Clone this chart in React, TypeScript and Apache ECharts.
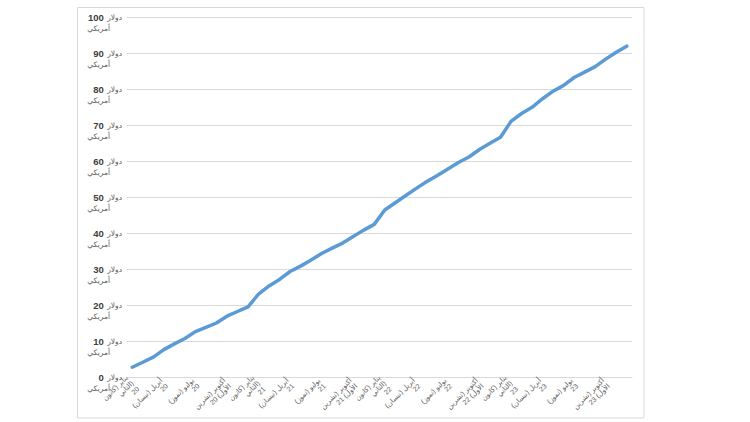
import React, { useEffect, useRef } from "react";
import * as echarts from "echarts";

const monthNames = [
  "يناير (كانون\nالثاني)\n",
  "فبراير (شباط)\n",
  "مارس (آذار)\n",
  "أبريل (نيسان)\n",
  "مايو (أيار)\n",
  "يونيو (حزيران)\n",
  "يوليو (تموز)\n",
  "أغسطس (آب)\n",
  "سبتمبر (أيلول)\n",
  "أكتوبر (تشرين\nالأول) ",
  "نوفمبر (تشرين\nالثاني) ",
  "ديسمبر (كانون\nالأول) ",
];
const years = ["20", "21", "22", "23"];

const prices = [
  2.7, 4.1, 5.5, 7.6, 9.2, 10.7, 12.6, 13.8, 15.0, 16.9, 18.2, 19.5,
  23.0, 25.3, 27.1, 29.3, 30.8, 32.5, 34.3, 35.8, 37.2, 39.0, 40.8, 42.4,
  46.4, 48.4, 50.4, 52.4, 54.3, 56.0, 57.8, 59.6, 61.1, 63.2, 64.9, 66.6,
  71.0, 73.2, 74.9, 77.3, 79.4, 81.0, 83.2, 84.7, 86.2, 88.3, 90.2, 91.9,
];

const yTicks = [0, 10, 20, 30, 40, 50, 60, 70, 80, 90, 100];
const unitLine1 = "دولار";
const unitLine2 = "أمريكي";

const categories: string[] = [];
years.forEach((y) => monthNames.forEach((m) => categories.push(m + y)));

export default function App() {
  const ref = useRef<HTMLDivElement>(null);
  useEffect(() => {
    if (!ref.current) return;
    const chart = echarts.init(ref.current, undefined, { renderer: "svg" });
    const font = "'Liberation Sans', 'DejaVu Sans', Arial, sans-serif";
    chart.setOption({
      animation: false,
      backgroundColor: "#ffffff",
      graphic: [
        {
          type: "rect",
          shape: { x: 77.5, y: 7.5, width: 566.5, height: 410.5 },
          style: { fill: "#ffffff", stroke: "#D9D9D9", lineWidth: 1 },
          z: -10,
        },
      ],
      grid: { left: 127, right: 118, top: 17, bottom: 45, containLabel: false },
      xAxis: {
        type: "category",
        data: categories,
        boundaryGap: true,
        axisLine: { lineStyle: { color: "#D9D9D9", width: 1 } },
        axisTick: { show: false },
        axisLabel: {
          interval: 2,
          rotate: 45,
          fontSize: 7,
          lineHeight: 8,
          color: "#595959",
          fontFamily: font,
          margin: 5,
        },
        splitLine: { show: false },
      },
      yAxis: {
        type: "value",
        min: 0,
        max: 100,
        interval: 10,
        axisLine: { show: false },
        axisTick: { show: false },
        splitLine: { lineStyle: { color: "#D9D9D9", width: 1 } },
        axisLabel: {
          margin: 5,
          align: "right",
          verticalAlign: "middle",
          padding: [11, 0, 0, 0],
          formatter: (v: number) =>
            yTicks.includes(v)
              ? `{n|${v}} {u|${unitLine1}}\n{w|${unitLine2}}`
              : "",
          rich: {
            n: { fontSize: 9.5, fontWeight: "bold", color: "#404040", fontFamily: font, lineHeight: 11 },
            u: { fontSize: 7.5, color: "#595959", fontFamily: font, lineHeight: 11 },
            w: { fontSize: 7.5, color: "#595959", fontFamily: font, lineHeight: 11, padding: [0, 12, 0, 0] },
          },
        },
      },
      series: [
        {
          type: "line",
          data: prices,
          showSymbol: false,
          smooth: false,
          lineStyle: { color: "#5B9BD5", width: 3.5, cap: "round", join: "round" },
          itemStyle: { color: "#5B9BD5" },
        },
      ],
    });
    return () => chart.dispose();
  }, []);
  return (
    <div
      ref={ref}
      style={{ position: "fixed", left: 0, top: 0, width: 750, height: 422 }}
    />
  );
}
